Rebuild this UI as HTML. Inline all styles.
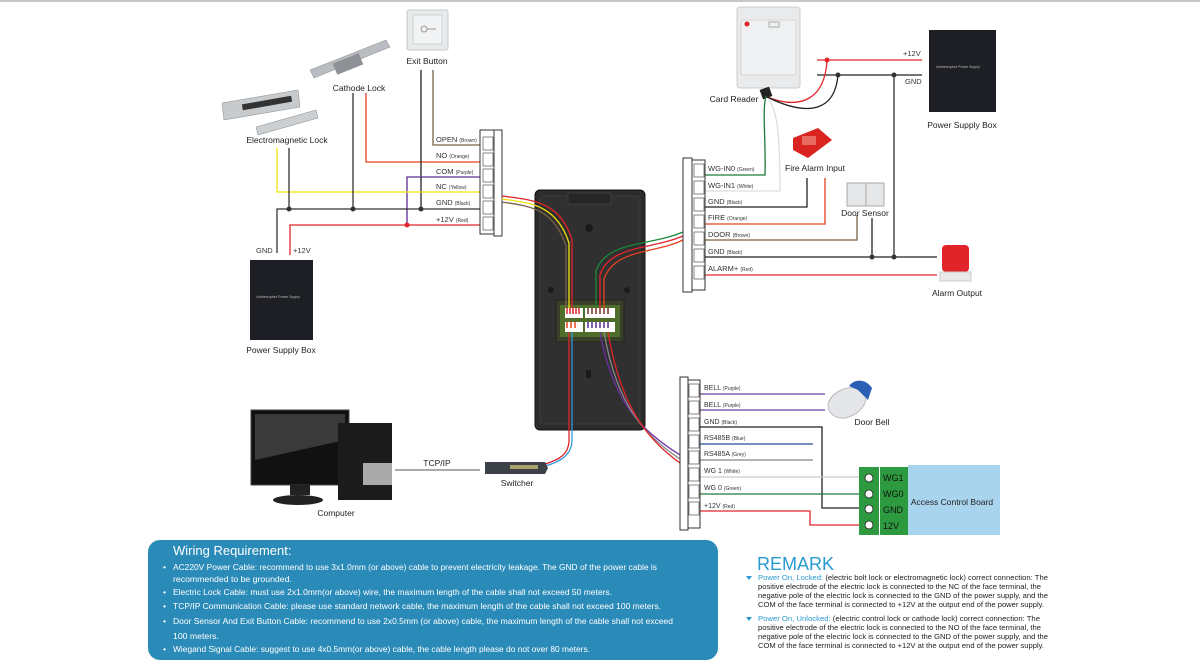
<!DOCTYPE html>
<html><head><meta charset="utf-8"><style>
html,body{margin:0;padding:0;background:#fff}
svg{display:block;font-family:"Liberation Sans",sans-serif}
</style></head><body>
<svg width="1200" height="665" viewBox="0 0 1200 665" xmlns="http://www.w3.org/2000/svg">
<line x1="0" y1="1" x2="1200" y2="1" stroke="#c8c8c8" stroke-width="2"/>

<!-- LEFT DEVICES -->
<rect x="407" y="10" width="41" height="40" rx="2" fill="#e8eaec" stroke="#c4c8cc"/>
<rect x="413" y="15" width="29" height="29" fill="#f2f3f4" stroke="#d0d0d0"/>
<circle cx="424" cy="29" r="3" fill="none" stroke="#999"/><line x1="427" y1="29" x2="436" y2="29" stroke="#999"/>
<text x="427" y="64" font-size="8.5" text-anchor="middle" fill="#222">Exit Button</text>
<polygon points="310,70 386,40 390,47 314,78" fill="#b9bcc0" stroke="#888" stroke-width=".5"/>
<rect x="334" y="58" width="28" height="12" fill="#8d9094" transform="rotate(-22 348 64)"/>
<text x="359" y="91" font-size="8.5" text-anchor="middle" fill="#222">Cathode Lock</text>
<polygon points="222,103 298,90 300,107 224,120" fill="#c8cbce" stroke="#888" stroke-width=".5"/>
<rect x="242" y="100" width="50" height="6" fill="#333" transform="rotate(-10 267 103)"/>
<polygon points="256,127 316,110 318,118 258,135" fill="#cdd0d3" stroke="#888" stroke-width=".5"/>
<text x="287" y="143" font-size="8.5" text-anchor="middle" fill="#222">Electromagnetic Lock</text>

<!-- left wiring -->
<g fill="none" stroke-width="1.3">
<path d="M433 70V145H480" stroke="#7a6048"/>
<path d="M366 93V162H480" stroke="#e8401e"/>
<path d="M421 70V209" stroke="#222"/>
<path d="M407 225V177H480" stroke="#5c2d91"/>
<path d="M277 148V192H480" stroke="#f2e20a"/>
<path d="M277 253V209H480" stroke="#333"/>
<path d="M289 148V209M353 93V209" stroke="#333"/>
<path d="M290 255V225H480" stroke="#e0242a"/>
</g>
<g fill="#333"><circle cx="289" cy="209" r="2.5"/><circle cx="353" cy="209" r="2.5"/><circle cx="421" cy="209" r="2.5"/></g>
<circle cx="407" cy="225" r="2.5" fill="#e0242a"/>
<g font-size="7.5" fill="#333">
<text x="436" y="142">OPEN <tspan font-size="5">(Brown)</tspan></text>
<text x="436" y="158">NO <tspan font-size="5">(Orange)</tspan></text>
<text x="436" y="174">COM <tspan font-size="5">(Purple)</tspan></text>
<text x="436" y="189">NC <tspan font-size="5">(Yellow)</tspan></text>
<text x="436" y="205">GND <tspan font-size="5">(Black)</tspan></text>
<text x="436" y="222">+12V <tspan font-size="5">(Red)</tspan></text>
<text x="256" y="253">GND</text><text x="293" y="253">+12V</text>
</g>
<rect x="480" y="130" width="14" height="104" fill="#fff" stroke="#333"/>
<rect x="494" y="130" width="8" height="106" fill="#fff" stroke="#333"/>
<g fill="#fff" stroke="#555" stroke-width=".7">
<rect x="483" y="137" width="10" height="13"/><rect x="483" y="153" width="10" height="13"/><rect x="483" y="169" width="10" height="13"/><rect x="483" y="185" width="10" height="13"/><rect x="483" y="201" width="10" height="13"/><rect x="483" y="217" width="10" height="13"/></g>
<rect x="250" y="260" width="63" height="80" fill="#1d1f24"/>
<text x="256" y="298" font-size="3.5" fill="#bbb">Uninterrupted Power Supply</text>
<text x="281" y="353" font-size="8.5" text-anchor="middle" fill="#222">Power Supply Box</text>

<!-- DEVICE -->
<rect x="535" y="190" width="110" height="240" rx="5" fill="#2b2b2b" stroke="#111"/>
<rect x="540" y="196" width="100" height="228" rx="3" fill="#303030" stroke="#3c3c3c"/>
<rect x="568" y="193" width="43" height="11" fill="#262626" stroke="#3c3c3c"/>
<circle cx="589" cy="228" r="4" fill="#1a1a1a"/><circle cx="551" cy="290" r="3" fill="#1a1a1a"/><circle cx="627" cy="290" r="3" fill="#1a1a1a"/>
<rect x="586" y="370" width="5" height="8" rx="2" fill="#1a1a1a"/>
<rect x="556" y="300" width="68" height="42" fill="#3a3f2a" stroke="#222"/>
<rect x="560" y="305" width="60" height="32" fill="#4f6e2a"/>
<rect x="565" y="308" width="18" height="10" fill="#fff"/><rect x="585" y="308" width="30" height="10" fill="#fff"/>
<rect x="565" y="322" width="18" height="10" fill="#fff"/><rect x="585" y="322" width="30" height="10" fill="#fff"/>
<g stroke-width="1.5">
<path d="M567 308v6M570 308v6M573 308v6M576 308v6M579 308v6" stroke="#e0242a"/>
<path d="M588 308v6M592 308v6M596 308v6M600 308v6M604 308v6M608 308v6" stroke="#7a3020"/>
<path d="M567 322v6M571 322v6M575 322v6" stroke="#e8401e"/>
<path d="M588 322v6M592 322v6M596 322v6M600 322v6M604 322v6M608 322v6" stroke="#5c2d91"/>
</g>
<g fill="none" stroke-width="1.3">
<path d="M502 196C530 200 560 200 572 240V308" stroke="#e0242a"/>
<path d="M502 199C528 203 556 203 569 243V308" stroke="#f2e20a"/>
<path d="M502 202C526 206 553 206 566 246V308" stroke="#7a6048"/>
<path d="M683 236C650 250 610 245 600 275V308" stroke="#e0242a"/>
<path d="M683 232C650 246 606 241 596 271V308" stroke="#1a8a3a"/>
<path d="M683 240C654 254 614 249 604 279V308" stroke="#e8401e"/>
<path d="M572 332V440C572 455 560 462 545 466" stroke="#2c9ad6"/>
<path d="M569 332V440C569 455 558 460 545 464" stroke="#e0242a"/>
<path d="M600 332C612 400 640 430 680 455" stroke="#6b2fa0"/>
<path d="M604 332C616 402 642 434 680 459" stroke="#888"/>
<path d="M608 332C620 404 645 438 680 463" stroke="#e0242a"/>
</g>

<!-- Computer & switch -->
<rect x="251" y="410" width="98" height="75" fill="#111" stroke="#444"/>
<polygon points="255,414 345,414 345,440 255,460" fill="#3a3a3a"/>
<rect x="290" y="485" width="20" height="10" fill="#222"/>
<ellipse cx="298" cy="500" rx="25" ry="5" fill="#222"/>
<rect x="338" y="423" width="54" height="77" fill="#1b1b1b"/>
<rect x="363" y="463" width="29" height="22" fill="#aaa"/>
<text x="336" y="516" font-size="8.5" text-anchor="middle" fill="#222">Computer</text>
<line x1="395" y1="470" x2="480" y2="470" stroke="#777" stroke-width="1.3"/>
<text x="437" y="466" font-size="8.5" text-anchor="middle" fill="#222">TCP/IP</text>
<polygon points="485,462 545,462 548,468 545,474 485,474" fill="#3c4148"/>
<rect x="510" y="465" width="28" height="4" fill="#a9a06a"/>
<text x="517" y="486" font-size="8.5" text-anchor="middle" fill="#222">Switcher</text>

<!-- RIGHT TOP -->
<rect x="737" y="7" width="63" height="81" rx="3" fill="#e9eaec" stroke="#ccc"/>
<rect x="741" y="20" width="55" height="55" rx="2" fill="#eef0f1" stroke="#d5d5d5"/>
<circle cx="747" cy="24" r="2.5" fill="#e0242a"/>
<rect x="769" y="22" width="10" height="5" fill="none" stroke="#aaa"/>
<text x="734" y="102" font-size="8.5" text-anchor="middle" fill="#222">Card Reader</text>
<rect x="761" y="88" width="10" height="10" fill="#222" transform="rotate(-20 766 93)"/>
<g fill="none" stroke-width="1.3">
<path d="M817 60H922" stroke="#e0242a"/>
<path d="M817 75H922" stroke="#222"/>
<path d="M767 97C800 110 825 100 827 60" stroke="#e0242a"/>
<path d="M767 97C810 118 835 110 838 75" stroke="#222"/>
<path d="M894 75V257" stroke="#333"/>
<path d="M766 96C762 110 766 140 765 175H705" stroke="#1a7a3a"/>
<path d="M769 100C778 112 780 140 780 191H705" stroke="#ddd"/>
<path d="M807 178V207H705" stroke="#222"/>
<path d="M825 178V224H705" stroke="#e8401e"/>
<path d="M857 215V240H705" stroke="#7a6048"/>
<path d="M872 218V257M705 257H937" stroke="#222"/>
<path d="M705 275H937" stroke="#e0242a"/>
</g>
<circle cx="827" cy="60" r="2.5" fill="#e0242a"/>
<g fill="#333"><circle cx="838" cy="75" r="2.5"/><circle cx="894" cy="75" r="2.5"/><circle cx="872" cy="257" r="2.5"/><circle cx="894" cy="257" r="2.5"/></g>
<text x="903" y="56" font-size="7.5" fill="#333">+12V</text>
<text x="905" y="84" font-size="7.5" fill="#333">GND</text>
<rect x="929" y="30" width="67" height="82" fill="#1d1f24"/>
<text x="936" y="68" font-size="3.5" fill="#bbb">Uninterrupted Power Supply</text>
<text x="962" y="128" font-size="8.5" text-anchor="middle" fill="#222">Power Supply Box</text>
<polygon points="793,138 818,128 832,140 808,158 793,150" fill="#d9241f"/>
<rect x="802" y="136" width="14" height="9" fill="#e86a60"/>
<text x="815" y="171" font-size="8.5" text-anchor="middle" fill="#222">Fire Alarm Input</text>
<rect x="847" y="183" width="19" height="23" fill="#e6e7e8" stroke="#aaa"/>
<rect x="866" y="183" width="18" height="23" fill="#e6e7e8" stroke="#aaa"/>
<text x="865" y="216" font-size="8.5" text-anchor="middle" fill="#222">Door Sensor</text>
<rect x="942" y="245" width="27" height="27" rx="4" fill="#e0242a"/>
<rect x="940" y="272" width="31" height="9" fill="#e9e9e9" stroke="#ccc"/>
<text x="957" y="296" font-size="8.5" text-anchor="middle" fill="#222">Alarm Output</text>
<g font-size="7.5" fill="#333">
<text x="708" y="171">WG-IN0 <tspan font-size="5">(Green)</tspan></text>
<text x="708" y="188">WG-IN1 <tspan font-size="5">(White)</tspan></text>
<text x="708" y="204">GND <tspan font-size="5">(Black)</tspan></text>
<text x="708" y="220">FIRE <tspan font-size="5">(Orange)</tspan></text>
<text x="708" y="237">DOOR <tspan font-size="5">(Brown)</tspan></text>
<text x="708" y="254">GND <tspan font-size="5">(Black)</tspan></text>
<text x="708" y="271">ALARM+ <tspan font-size="5">(Red)</tspan></text>
</g>
<rect x="683" y="158" width="9" height="134" fill="#fff" stroke="#333"/>
<rect x="692" y="160" width="13" height="130" fill="#fff" stroke="#333"/>
<g fill="#fff" stroke="#555" stroke-width=".7">
<rect x="694" y="164" width="10" height="13"/><rect x="694" y="181" width="10" height="13"/><rect x="694" y="198" width="10" height="13"/><rect x="694" y="215" width="10" height="13"/><rect x="694" y="232" width="10" height="13"/><rect x="694" y="249" width="10" height="13"/><rect x="694" y="266" width="10" height="13"/></g>

<!-- RIGHT BOTTOM -->
<g fill="none" stroke-width="1.3">
<path d="M700 394H825M700 410H825" stroke="#6b3fa0"/>
<path d="M700 427H822V508H860" stroke="#222"/>
<path d="M700 444H813" stroke="#2a4a9a"/>
<path d="M700 460H813" stroke="#888"/>
<path d="M700 477H860" stroke="#ccc"/>
<path d="M700 494H860" stroke="#1a7a3a"/>
<path d="M700 511H810V525H860" stroke="#e0242a"/>
</g>
<g font-size="7" fill="#333">
<text x="704" y="390">BELL <tspan font-size="5">(Purple)</tspan></text>
<text x="704" y="407">BELL <tspan font-size="5">(Purple)</tspan></text>
<text x="704" y="424">GND <tspan font-size="5">(Black)</tspan></text>
<text x="704" y="440">RS485B <tspan font-size="5">(Blue)</tspan></text>
<text x="704" y="456">RS485A <tspan font-size="5">(Grey)</tspan></text>
<text x="704" y="473">WG 1 <tspan font-size="5">(White)</tspan></text>
<text x="704" y="490">WG 0 <tspan font-size="5">(Green)</tspan></text>
<text x="704" y="508">+12V <tspan font-size="5">(Red)</tspan></text>
</g>
<rect x="680" y="377" width="8" height="153" fill="#fff" stroke="#333"/>
<rect x="688" y="380" width="12" height="148" fill="#fff" stroke="#333"/>
<g fill="#fff" stroke="#555" stroke-width=".7">
<rect x="689" y="384" width="10" height="13"/><rect x="689" y="401" width="10" height="13"/><rect x="689" y="418" width="10" height="13"/><rect x="689" y="435" width="10" height="13"/><rect x="689" y="451" width="10" height="13"/><rect x="689" y="468" width="10" height="13"/><rect x="689" y="485" width="10" height="13"/><rect x="689" y="502" width="10" height="13"/></g>
<path d="M828 404C832 392 845 386 858 388L866 397C866 408 855 416 845 418C836 419 828 414 828 404Z" fill="#e4e6ea" stroke="#bbb"/>
<path d="M849 386C855 378 866 379 872 388L868 400L858 390Z" fill="#2b5fb5"/>
<text x="872" y="425" font-size="8.5" text-anchor="middle" fill="#222">Door Bell</text>
<rect x="908" y="465" width="92" height="70" fill="#a8d4ee"/>
<rect x="859" y="467" width="20" height="68" fill="#2d9a3f"/>
<rect x="880" y="467" width="28" height="68" fill="#2d9a3f"/>
<g fill="#fff" stroke="#222" stroke-width=".8"><circle cx="869" cy="478" r="4"/><circle cx="869" cy="494" r="4"/><circle cx="869" cy="509" r="4"/><circle cx="869" cy="525" r="4"/></g>
<g font-size="9" fill="#111"><text x="883" y="481">WG1</text><text x="883" y="497">WG0</text><text x="883" y="513">GND</text><text x="883" y="529">12V</text></g>
<text x="952" y="505" font-size="8.5" text-anchor="middle" fill="#222">Access Control Board</text>

<!-- WIRING REQUIREMENT -->
<rect x="148" y="540" width="570" height="120" rx="12" fill="#2a8ab8"/>
<text x="173" y="555" font-size="13" fill="#fff">Wiring Requirement:</text>
<g font-size="8.7" fill="#fff">
<text x="163" y="570">•</text><text x="173" y="570" textLength="484" lengthAdjust="spacingAndGlyphs">AC220V Power Cable: recommend to use 3x1.0mm (or above) cable to prevent electricity leakage. The GND of the power cable is</text>
<text x="173" y="582">recommended to be grounded.</text>
<text x="163" y="595">•</text><text x="173" y="595" textLength="439" lengthAdjust="spacingAndGlyphs">Electric Lock Cable: must use 2x1.0mm(or above) wire, the maximum length of the cable shall not exceed 50 meters.</text>
<text x="163" y="609">•</text><text x="173" y="609" textLength="488" lengthAdjust="spacingAndGlyphs">TCP/IP Communication Cable: please use standard network cable, the maximum length of the cable shall not exceed 100 meters.</text>
<text x="163" y="624">•</text><text x="173" y="624" textLength="500" lengthAdjust="spacingAndGlyphs">Door Sensor And Exit Button Cable: recommend to use 2x0.5mm (or above) cable, the maximum length of the cable shall not exceed</text>
<text x="173" y="639">100 meters.</text>
<text x="163" y="652">•</text><text x="173" y="652" textLength="417" lengthAdjust="spacingAndGlyphs">Wiegand Signal Cable: suggest to use 4x0.5mm(or above) cable, the cable length please do not over 80 meters.</text>
</g>

<!-- REMARK -->
<text x="757" y="570" font-size="18" fill="#2a9ad0">REMARK</text>
<g font-size="7.3" fill="#222">
<polygon points="746,576 752,576 749,580" fill="#2a9ad0"/>
<text x="758" y="580" textLength="290" lengthAdjust="spacingAndGlyphs"><tspan fill="#2a9ad0">Power On, Locked:</tspan> (electric bolt lock or electromagnetic lock) correct connection: The</text>
<text x="758" y="589" textLength="283" lengthAdjust="spacingAndGlyphs">positive electrode of the electric lock is connected to the NC of the face terminal, the</text>
<text x="758" y="598" textLength="290" lengthAdjust="spacingAndGlyphs">negative pole of the electric lock is connected to the GND of the power supply, and the</text>
<text x="758" y="607" textLength="286" lengthAdjust="spacingAndGlyphs">COM of the face terminal is connected to +12V at the output end of the power supply.</text>
<polygon points="746,617 752,617 749,621" fill="#2a9ad0"/>
<text x="758" y="621" textLength="282" lengthAdjust="spacingAndGlyphs"><tspan fill="#2a9ad0">Power On, Unlocked:</tspan> (electric control lock or cathode lock) correct connection: The</text>
<text x="758" y="630" textLength="283" lengthAdjust="spacingAndGlyphs">positive electrode of the electric lock is connected to the NO of the face terminal, the</text>
<text x="758" y="639" textLength="290" lengthAdjust="spacingAndGlyphs">negative pole of the electric lock is connected to the GND of the power supply, and the</text>
<text x="758" y="648" textLength="286" lengthAdjust="spacingAndGlyphs">COM of the face terminal is connected to +12V at the output end of the power supply.</text>
</g>
</svg>
</body></html>
